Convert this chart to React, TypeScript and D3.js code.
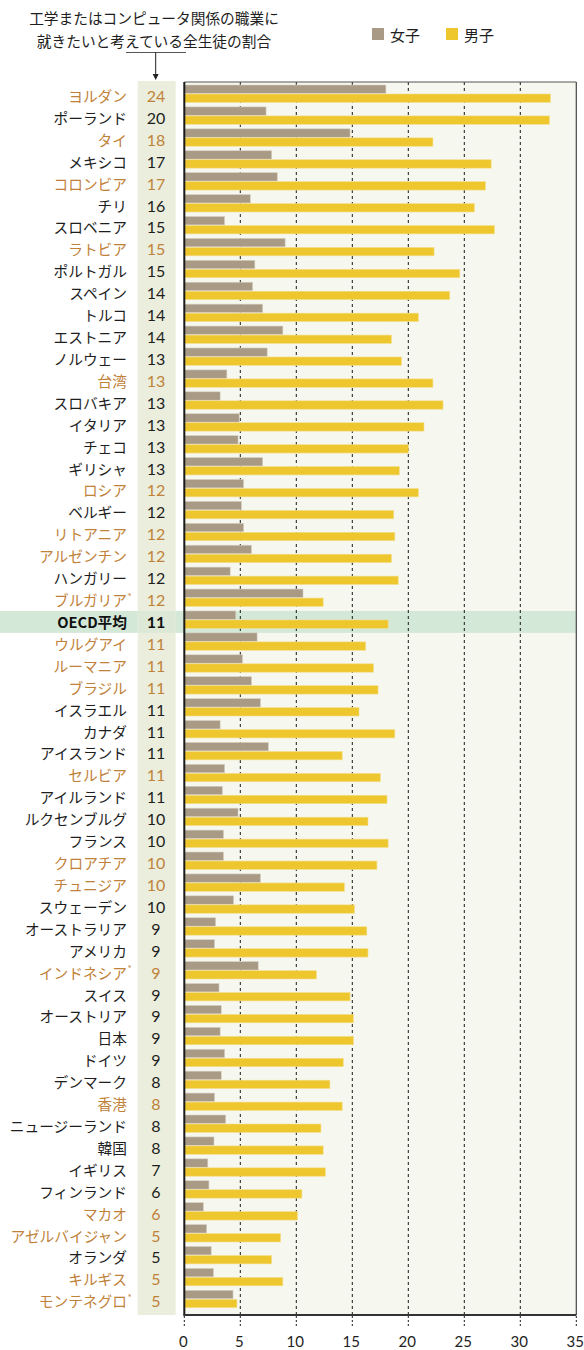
import React from "react";
import * as d3 from "d3";

const countries = [
  "ヨルダン", "ポーランド", "タイ", "メキシコ", "コロンビア", "チリ", "スロベニア", "ラトビア",
  "ポルトガル", "スペイン", "トルコ", "エストニア", "ノルウェー", "台湾", "スロバキア", "イタリア",
  "チェコ", "ギリシャ", "ロシア", "ベルギー", "リトアニア", "アルゼンチン", "ハンガリー", "ブルガリア*",
  "OECD平均", "ウルグアイ", "ルーマニア", "ブラジル", "イスラエル", "カナダ", "アイスランド", "セルビア",
  "アイルランド", "ルクセンブルグ", "フランス", "クロアチア", "チュニジア", "スウェーデン", "オーストラリア", "アメリカ",
  "インドネシア*", "スイス", "オーストリア", "日本", "ドイツ", "デンマーク", "香港", "ニュージーランド",
  "韓国", "イギリス", "フィンランド", "マカオ", "アゼルバイジャン", "オランダ", "キルギス", "モンテネグロ*",
];

const totals = [
  24, 20, 18, 17, 17, 16, 15, 15,
  15, 14, 14, 14, 13, 13, 13, 13,
  13, 13, 12, 12, 12, 12, 12, 12,
  11, 11, 11, 11, 11, 11, 11, 11,
  11, 10, 10, 10, 10, 10, 9, 9,
  9, 9, 9, 9, 9, 8, 8, 8,
  8, 7, 6, 6, 5, 5, 5, 5,
];

const female = [
  18.0, 7.3, 14.8, 7.8, 8.3, 5.9, 3.6, 9.0,
  6.3, 6.1, 7.0, 8.8, 7.4, 3.8, 3.2, 4.9,
  4.8, 7.0, 5.3, 5.1, 5.3, 6.0, 4.1, 10.6,
  4.6, 6.5, 5.2, 6.0, 6.8, 3.2, 7.5, 3.6,
  3.4, 4.8, 3.5, 3.5, 6.8, 4.4, 2.8, 2.7,
  6.6, 3.1, 3.3, 3.2, 3.6, 3.3, 2.7, 3.7,
  2.65, 2.1, 2.2, 1.7, 2.0, 2.4, 2.6, 4.35,
];

const male = [
  32.7, 32.6, 22.2, 27.4, 26.9, 25.9, 27.7, 22.3,
  24.6, 23.7, 20.9, 18.5, 19.4, 22.2, 23.1, 21.4,
  20.0, 19.2, 20.9, 18.7, 18.8, 18.5, 19.1, 12.4,
  18.2, 16.2, 16.9, 17.3, 15.6, 18.8, 14.1, 17.5,
  18.1, 16.4, 18.2, 17.2, 14.3, 15.2, 16.3, 16.4,
  11.8, 14.8, 15.1, 15.1, 14.2, 13.0, 14.1, 12.2,
  12.4, 12.6, 10.5, 10.1, 8.6, 7.8, 8.8, 4.7,
];

const nonOecd = [
  "ヨルダン", "タイ", "コロンビア", "ラトビア", "台湾", "ロシア", "リトアニア", "アルゼンチン",
  "ブルガリア*", "ウルグアイ", "ルーマニア", "ブラジル", "セルビア", "クロアチア", "チュニジア",
  "インドネシア*", "香港", "マカオ", "アゼルバイジャン", "キルギス", "モンテネグロ*",
];

const xTicks = [0, 5, 10, 15, 20, 25, 30, 35];
const titleLines = ["工学またはコンピュータ関係の職業に", "就きたいと考えている全生徒の割合"];
const legendItems = ["女子", "男子"];
const averageLabel = "OECD平均";

const C_FEMALE = "#a89a85";
const C_MALE = "#eec72f";
const C_ORANGE = "#bf823a";
const C_TEXT = "#1e1e1e";
const JP = "'Noto Sans CJK JP', 'Noto Sans', sans-serif";
const NUM = "Lato, 'Noto Sans', sans-serif";

export default function App() {
  const W = 584;
  const H = 1350;
  const plotLeft = 184.3;
  const plotRight = 576.3;
  const frameTop = 82;
  const frameBottom = 1315;
  const rowTop = 85;
  const step = 21.915;
  const barH = 8.4;

  const x = d3.scaleLinear().domain([0, 35]).range([plotLeft, plotRight]);
  const y = d3
    .scaleBand<string>()
    .domain(countries)
    .range([rowTop, rowTop + step * countries.length])
    .paddingInner(0)
    .paddingOuter(0);

  const avgY = y(averageLabel) as number;

  return (
    <svg
      width={W}
      height={H}
      style={{ position: "absolute", left: 0, top: 0, display: "block", background: "#fff" }}
    >
      {/* title */}
      {titleLines.map((t, i) => (
        <text
          key={t}
          x={154}
          y={17 + i * 23}
          fontFamily={JP}
          fontSize={14.7}
          fill={C_TEXT}
          textAnchor="middle"
          dominantBaseline="central"
        >
          {t}
        </text>
      ))}
      <line x1={126} x2={186} y1={52.5} y2={52.5} stroke="#555" strokeWidth={1.2} />
      <line x1={155.7} x2={155.7} y1={52.5} y2={76} stroke="#222" strokeWidth={1} />
      <path d="M152.7,74 L158.7,74 L155.7,80 Z" fill="#222" />

      {/* legend */}
      {legendItems.map((l, i) => (
        <g key={l} transform={`translate(${372 + i * 74},0)`}>
          <rect x={0} y={28} width={12} height={12} fill={i === 0 ? C_FEMALE : C_MALE} />
          <text
            x={18}
            y={34}
            fontFamily={JP}
            fontSize={15}
            fill={C_TEXT}
            dominantBaseline="central"
          >
            {l}
          </text>
        </g>
      ))}

      {/* value column background */}
      <rect x={137.7} y={frameTop - 1} width={38} height={frameBottom - frameTop + 1} fill="#ebeedc" />

      {/* plot background */}
      <rect
        x={plotLeft}
        y={frameTop}
        width={plotRight - plotLeft}
        height={frameBottom - frameTop}
        fill="#f6f7ef"
      />

      {/* OECD average band */}
      <rect x={0} y={avgY} width={137.7} height={step} fill="#d4e8d8" />
      <rect x={137.7} y={avgY} width={38} height={step} fill="#dde9d6" />
      <rect x={175.7} y={avgY} width={plotRight - 175.7} height={step} fill="#d4e8d8" />

      {/* grid lines */}
      {xTicks
        .filter((t) => t > 0 && t < 35)
        .map((t) => (
          <line
            key={"g" + t}
            x1={x(t)}
            x2={x(t)}
            y1={frameTop}
            y2={frameBottom}
            stroke="#1a1a1a"
            strokeWidth={1}
            strokeDasharray="3,3"
          />
        ))}

      {/* bars */}
      {countries.map((c, i) => {
        const yy = y(c) as number;
        return (
          <g key={"b" + c}>
            <rect
              x={x(0)}
              y={yy}
              width={x(female[i]) - x(0)}
              height={barH}
              fill={C_FEMALE}
              stroke="#d8d0c4"
              strokeWidth={0.6}
            />
            <rect
              x={x(0)}
              y={yy + 9}
              width={x(male[i]) - x(0)}
              height={barH}
              fill={C_MALE}
              stroke="#f4df90"
              strokeWidth={0.6}
            />
          </g>
        );
      })}

      {/* frame */}
      <line x1={plotLeft} x2={plotRight} y1={frameTop} y2={frameTop} stroke="#555" strokeWidth={1} />
      <line x1={plotRight} x2={plotRight} y1={frameTop} y2={frameBottom} stroke="#444" strokeWidth={1.2} />
      <line x1={plotLeft} x2={plotLeft} y1={frameTop} y2={frameBottom} stroke="#1a1a1a" strokeWidth={2} />
      <line x1={plotLeft - 1} x2={plotRight} y1={frameBottom} y2={frameBottom} stroke="#333" strokeWidth={1.8} />

      {/* x ticks */}
      {xTicks.map((t) => (
        <g key={"t" + t}>
          <line
            x1={x(t)}
            x2={x(t)}
            y1={frameBottom + 1}
            y2={frameBottom + 13}
            stroke="#1a1a1a"
            strokeWidth={1}
            strokeDasharray="2,2"
          />
          <text
            x={x(t) - 1}
            y={1341}
            fontFamily={NUM}
            fontSize={15}
            fill={C_TEXT}
            textAnchor="middle"
            dominantBaseline="central"
          >
            {t}
          </text>
        </g>
      ))}

      {/* labels */}
      {countries.map((c, i) => {
        const yy = (y(c) as number) + 10.5;
        const isAvg = c === averageLabel;
        const color = nonOecd.includes(c) ? C_ORANGE : isAvg ? "#111" : C_TEXT;
        const star = c.endsWith("*");
        const name = star ? c.slice(0, -1) : c;
        return (
          <g key={"l" + c}>
            <text
              x={127}
              y={yy}
              fontFamily={JP}
              fontSize={14.7}
              fontWeight={isAvg ? 700 : 400}
              fill={color}
              textAnchor="end"
              dominantBaseline="central"
            >
              {name}
            </text>
            {star && (
              <text
                x={127.5}
                y={yy - 4}
                fontFamily={NUM}
                fontSize={10}
                fill={color}
                dominantBaseline="central"
              >
                *
              </text>
            )}
            <text
              x={156}
              y={yy}
              fontFamily={NUM}
              fontSize={16}
              fontWeight={isAvg ? 700 : 400}
              fill={color}
              textAnchor="middle"
              dominantBaseline="central"
            >
              {totals[i]}
            </text>
          </g>
        );
      })}
    </svg>
  );
}
